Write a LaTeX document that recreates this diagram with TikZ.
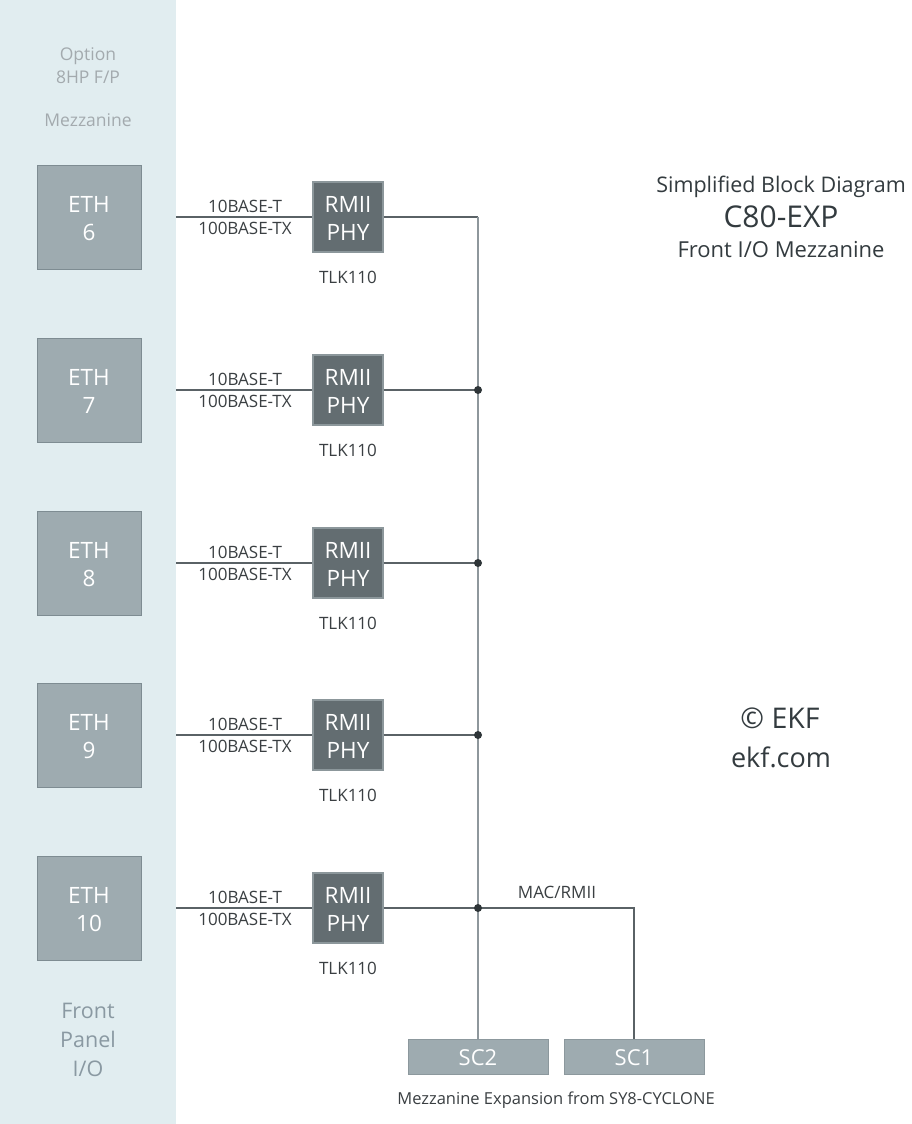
\documentclass[tikz,border=0pt]{standalone}
\usepackage{fontspec}
\setmainfont{Open Sans}
\begin{document}
\begin{tikzpicture}[x=1pt,y=-1pt,
  ethbox/.style={draw=ethb,fill=ethc,line width=1pt,minimum width=104pt,minimum height=104pt,inner sep=0pt},
  phybox/.style={draw=phyb,fill=phyc,line width=1.2pt,minimum width=70pt,minimum height=70pt,inner sep=0pt},
  boxtxt/.style={text=white,anchor=base,inner sep=0pt,font=\fontsize{22.5}{27}\selectfont},
  scbox/.style={draw=scb,fill=ethc,line width=0.8pt,minimum width=140pt,minimum height=35pt,inner sep=0pt},
  lbl/.style={text=txtc,font=\fontsize{17}{20}\selectfont,anchor=base,inner sep=0pt},
  hline/.style={draw=linec,line width=1.2pt},
  vline/.style={draw=vlinec,line width=1.5pt},
  dotc/.style={fill=dotcol,circle,minimum size=8pt,inner sep=0pt},
  paneltxt/.style={text=ptxt,anchor=base,inner sep=0pt,font=\fontsize{17.5}{20}\selectfont},
  paneltxtb/.style={text=ptxt2,anchor=base,inner sep=0pt,font=\fontsize{21.5}{26}\selectfont},
  title/.style={text=titc,anchor=base,inner sep=0pt}
]
\definecolor{panelc}{HTML}{E1EDF0}
\definecolor{ethc}{HTML}{9EABB0}
\definecolor{ethb}{HTML}{7E8C92}
\definecolor{phyc}{HTML}{636D71}
\definecolor{phyb}{HTML}{8C979B}
\definecolor{scb}{HTML}{8C989D}
\definecolor{txtc}{HTML}{3A3F42}
\definecolor{linec}{HTML}{5A6266}
\definecolor{vlinec}{HTML}{8E979C}
\definecolor{dotcol}{HTML}{2E3538}
\definecolor{ptxt}{HTML}{A3AAAE}
\definecolor{ptxt2}{HTML}{8A99A2}
\definecolor{titc}{HTML}{333B3F}
\useasboundingbox (0,0) rectangle (911,1124);
\fill[white] (0,0) rectangle (911,1124);
\fill[panelc] (0,0) rectangle (176,1124);

\node[paneltxt] (opt) at (88,60) {Option};
\node[paneltxt] (opt2) at (88,83) {8HP F/P};
\node[paneltxt] (mez) at (88,126) {Mezzanine};
\node[paneltxtb] (fp1) at (88,1018) {Front};
\node[paneltxtb] (fp2) at (88,1047) {Panel};
\node[paneltxtb] (fp3) at (88,1076) {I/O};

% title
\node[title,font=\fontsize{21.5}{26}\selectfont] (t1) at (781,192) {Simplified Block Diagram};
\node[title,font=\fontsize{30}{34}\selectfont] (t2) at (781,227) {C80-EXP};
\node[title,font=\fontsize{22}{26}\selectfont] (t3) at (781,257) {Front I/O Mezzanine};
\node[title,font=\fontsize{28.5}{34}\selectfont] (c1) at (780,728) {© EKF};
\node[title,font=\fontsize{27}{32}\selectfont] (c2) at (781,767) {ekf.com};

\coordinate (vtop) at (478,217);
\foreach \n/\y in {6/217,7/390,8/563,9/735,10/908}{
  \node[ethbox] (eth\n) at (89,\y) {};
  \node[boxtxt] (etha\n) at (89,\y-5) {ETH};
  \node[boxtxt] (ethb\n) at (89,\y+23) {\n};
  \node[phybox] (phy\n) at (348,\y) {};
  \node[boxtxt] (phya\n) at (348,\y-5) {RMII};
  \node[boxtxt] (phyb\n) at (348,\y+23) {PHY};
  \node[lbl] (tlk\n) at (348,\y+66) {TLK110};
  \node[lbl] (bt\n) at (245,\y-5) {10BASE-T};
  \node[lbl] (btx\n) at (245,\y+17) {100BASE-TX};
  \coordinate (pe\n) at (176,\y);
  \coordinate (j\n) at (478,\y);
  \draw[hline] (pe\n) -- (phy\n.west);
  \draw[hline] (phy\n.east) -- (j\n);
}
\node[scbox] (sc2) at (478,1057) {};
\node[boxtxt,font=\fontsize{22}{26}\selectfont] (sc2t) at (478,1065) {SC2};
\node[scbox] (sc1) at (634,1057) {};
\node[boxtxt,font=\fontsize{22}{26}\selectfont] (sc1t) at (634,1065) {SC1};
\draw[vline] (vtop) -- (sc2.north);
\draw[hline] (j10) -| (sc1.north);
\foreach \n in {7,8,9,10}{ \node[dotc] (d\n) at (j\n) {}; }
\node[lbl] (mac) at (557,898) {MAC/RMII};
\node[lbl,font=\fontsize{16.5}{20}\selectfont] (cap) at (556,1104) {Mezzanine Expansion from SY8-CYCLONE};
\end{tikzpicture}
\end{document}
